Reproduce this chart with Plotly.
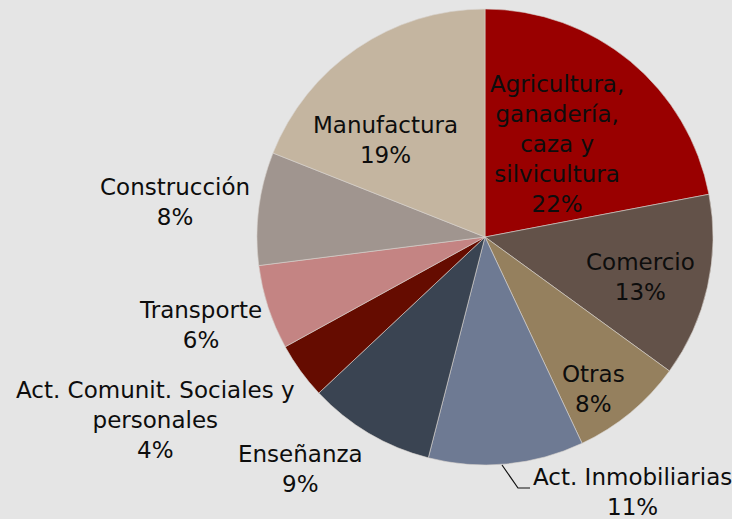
import plotly.graph_objects as go

# Distribución por rama de actividad
sectores = [
    "Agricultura, ganadería, caza y silvicultura",
    "Comercio",
    "Otras",
    "Act. Inmobiliarias",
    "Enseñanza",
    "Act. Comunit. Sociales y personales",
    "Transporte",
    "Construcción",
    "Manufactura",
]
porcentajes = [22, 13, 8, 11, 9, 4, 6, 8, 19]
colores = [
    "#990000", "#635249", "#95805e", "#6e7a93", "#3a4452",
    "#650c00", "#c48483", "#a0958f", "#c4b5a0",
]
# texto de cada etiqueta (con saltos de línea como en el original)
etiquetas = [
    "Agricultura,<br>ganadería,<br>caza y<br>silvicultura",
    "Comercio",
    "Otras",
    "Act. Inmobiliarias",
    "Enseñanza",
    "Act. Comunit. Sociales y<br>personales",
    "Transporte",
    "Construcción",
    "Manufactura",
]

W, H = 732, 519
BG = "#e5e5e5"
FONT = "DejaVu Sans"

# centro de cada etiqueta en píxeles (x, y desde arriba)
pos_etiquetas = [
    (557, 144), (640, 277), (593, 389), (632, 492), (300, 469),
    (155, 420), (200, 325), (175, 202), (385, 140),
]

fig = go.Figure()

fig.add_trace(
    go.Pie(
        labels=sectores,
        values=porcentajes,
        sort=False,
        direction="clockwise",
        rotation=0,
        marker=dict(colors=colores, line=dict(color="#d9d4cf", width=0.6)),
        textinfo="none",
        hoverinfo="label+percent",
        showlegend=False,
        domain=dict(x=[(485 - 228) / W, (485 + 228) / W], y=[1 - 465 / H, 1 - 9 / H]),
    )
)

for txt, pct, (px, py) in zip(etiquetas, porcentajes, pos_etiquetas):
    fig.add_annotation(
        x=px / W,
        y=1 - py / H,
        xref="paper",
        yref="paper",
        text=f"{txt}<br>{pct}%",
        showarrow=False,
        xanchor="center",
        yanchor="middle",
        align="center",
        font=dict(family=FONT, size=23, color="#0d0d0d"),
    )

# línea guía de Act. Inmobiliarias
fig.add_shape(
    type="path",
    xref="paper",
    yref="paper",
    path=(
        f"M {502 / W} {1 - 465 / H} L {518 / W} {1 - 488 / H} "
        f"L {530 / W} {1 - 488 / H}"
    ),
    line=dict(color="#111111", width=1.2),
)

fig.update_layout(
    width=W,
    height=H,
    margin=dict(l=0, r=0, t=0, b=0),
    paper_bgcolor=BG,
    plot_bgcolor=BG,
)

fig.write_html(
    "out.html",
    config={"displayModeBar": False},
    post_script="document.body.style.margin='0';document.body.style.background='%s';" % BG,
)
